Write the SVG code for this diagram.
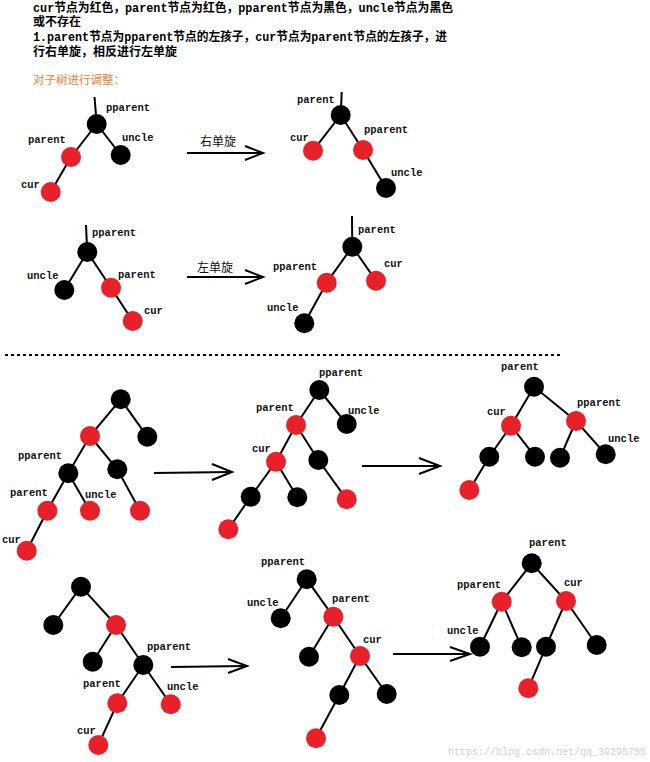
<svg xmlns="http://www.w3.org/2000/svg" width="650" height="762" viewBox="0 0 650 762">
<style>
.t{font-family:"Liberation Mono","Noto Sans CJK SC",monospace;font-size:12px;fill:#000;font-weight:bold}
.o{font-family:"Liberation Mono","Noto Sans CJK SC",monospace;font-size:11.5px;fill:#f07d2a}
.l{font-family:"Liberation Mono","Noto Sans CJK SC",monospace;font-size:10.5px;font-weight:bold;fill:#111}
.c{font-family:"Noto Sans CJK SC",sans-serif;font-size:12px;fill:#111}
.b{fill:#000}
.r{fill:#e8202a}
.e line{stroke:#000;stroke-width:2}
.a{stroke:#000;stroke-width:2;fill:none}
</style>
<rect width="650" height="762" fill="#fff"/>
<g id="intro">
<text class="t" x="33" y="12" textLength="420" lengthAdjust="spacingAndGlyphs">cur节点为红色，parent节点为红色，pparent节点为黑色，uncle节点为黑色</text>
<text class="t" x="33" y="26">或不存在</text>
<text class="t" x="33" y="41" textLength="414" lengthAdjust="spacingAndGlyphs">1.parent节点为pparent节点的左孩子，cur节点为parent节点的左孩子，进</text>
<text class="t" x="33" y="56">行右单旋，相反进行左单旋</text>
<text class="o" x="33" y="84">对子树进行调整：</text>
</g>
<g id="connectors" class="e">
<!-- T1 -->
<line x1="94.5" y1="97" x2="96" y2="115"/>
<line x1="96.7" y1="124" x2="71" y2="157"/>
<line x1="96.7" y1="124" x2="120.7" y2="155"/>
<line x1="71" y1="157" x2="50.7" y2="192"/>
<!-- T2 -->
<line x1="341.7" y1="92" x2="341.2" y2="106"/>
<line x1="340.7" y1="115" x2="313" y2="150.7"/>
<line x1="340.7" y1="115" x2="363" y2="150"/>
<line x1="363" y1="150" x2="386" y2="188"/>
<!-- T3 -->
<line x1="86" y1="225" x2="86.8" y2="243"/>
<line x1="87.3" y1="252" x2="64.3" y2="290"/>
<line x1="87.3" y1="252" x2="111" y2="287.7"/>
<line x1="111" y1="287.7" x2="132.7" y2="321"/>
<!-- T4 -->
<line x1="352" y1="216" x2="352.2" y2="237"/>
<line x1="352.3" y1="246.7" x2="326.7" y2="282.7"/>
<line x1="352.3" y1="246.7" x2="376" y2="280.7"/>
<line x1="326.7" y1="282.7" x2="304.3" y2="323.3"/>
<!-- T5 -->
<line x1="120.7" y1="399.3" x2="90" y2="436"/>
<line x1="120.7" y1="399.3" x2="147.3" y2="436.7"/>
<line x1="90" y1="436" x2="68.3" y2="473.3"/>
<line x1="90" y1="436" x2="117.3" y2="469.3"/>
<line x1="68.3" y1="473.3" x2="47.3" y2="510.7"/>
<line x1="68.3" y1="473.3" x2="90" y2="510.7"/>
<line x1="117.3" y1="469.3" x2="140" y2="510.7"/>
<line x1="47.3" y1="510.7" x2="26.7" y2="550.7"/>
<!-- T6 -->
<line x1="319.3" y1="390" x2="296" y2="425"/>
<line x1="319.3" y1="390" x2="346.7" y2="424"/>
<line x1="296" y1="425" x2="276" y2="461.7"/>
<line x1="296" y1="425" x2="318.3" y2="460"/>
<line x1="276" y1="461.7" x2="250.7" y2="496.7"/>
<line x1="276" y1="461.7" x2="297.3" y2="497.3"/>
<line x1="318.3" y1="460" x2="346.7" y2="499.3"/>
<line x1="250.7" y1="496.7" x2="228.3" y2="529.3"/>
<!-- T7 -->
<line x1="534" y1="386.7" x2="511" y2="425.7"/>
<line x1="534" y1="386.7" x2="576" y2="421"/>
<line x1="511" y1="425.7" x2="489.3" y2="456.7"/>
<line x1="511" y1="425.7" x2="535" y2="456.7"/>
<line x1="576" y1="421" x2="560" y2="457.7"/>
<line x1="576" y1="421" x2="605.7" y2="454.3"/>
<line x1="489.3" y1="456.7" x2="469.3" y2="490"/>
<!-- T8 -->
<line x1="81" y1="586.7" x2="53.3" y2="625"/>
<line x1="81" y1="586.7" x2="116" y2="625"/>
<line x1="116" y1="625" x2="92.7" y2="661.7"/>
<line x1="116" y1="625" x2="143.3" y2="665"/>
<line x1="143.3" y1="665" x2="117.3" y2="703.3"/>
<line x1="143.3" y1="665" x2="170.7" y2="704.3"/>
<line x1="117.3" y1="703.3" x2="98.3" y2="745"/>
<!-- T9 -->
<line x1="306.7" y1="579.3" x2="280.7" y2="618.3"/>
<line x1="306.7" y1="579.3" x2="333.3" y2="616.7"/>
<line x1="333.3" y1="616.7" x2="309" y2="656.7"/>
<line x1="333.3" y1="616.7" x2="360" y2="656"/>
<line x1="360" y1="656" x2="339.3" y2="695"/>
<line x1="360" y1="656" x2="386.7" y2="694"/>
<line x1="339.3" y1="695" x2="316" y2="738.3"/>
<!-- T10 -->
<line x1="531.7" y1="563.3" x2="501.7" y2="601.7"/>
<line x1="531.7" y1="563.3" x2="566" y2="601"/>
<line x1="501.7" y1="601.7" x2="480" y2="646.7"/>
<line x1="501.7" y1="601.7" x2="521.7" y2="647.3"/>
<line x1="566" y1="601" x2="546" y2="646.7"/>
<line x1="566" y1="601" x2="596.7" y2="645"/>
<line x1="546" y1="646.7" x2="528.3" y2="688.3"/>
</g>
<g id="arrows">
<line class="a" x1="187" y1="153" x2="262" y2="153"/>
<polyline class="a" points="245,146 263,153 245,160"/>
<line class="a" x1="187" y1="277" x2="262" y2="277"/>
<polyline class="a" points="245,270 263,277 245,284"/>
<line class="a" x1="154" y1="473" x2="231" y2="472"/>
<polyline class="a" points="212,464 232,472 212,480"/>
<line class="a" x1="362" y1="466" x2="439" y2="466"/>
<polyline class="a" points="419,458 440,466 419,474"/>
<line class="a" x1="171" y1="667" x2="246" y2="666"/>
<polyline class="a" points="228,659 247,666 228,673"/>
<line class="a" x1="393" y1="654" x2="469" y2="654"/>
<polyline class="a" points="450,647 470,654 450,661"/>
<text class="c" x="200" y="146">右单旋</text>
<text class="c" x="197" y="272">左单旋</text>
</g>
<line id="divider" x1="5" y1="355" x2="560" y2="355" stroke="#000" stroke-width="2" stroke-dasharray="3 3"/>
<g id="tree1">
<circle class="b" cx="96.7" cy="124" r="10"/><circle class="r" cx="71" cy="157" r="10"/>
<circle class="b" cx="120.7" cy="155" r="10"/><circle class="r" cx="50.7" cy="192" r="10"/>
<text class="l" x="106" y="111">pparent</text><text class="l" x="122" y="141">uncle</text>
<text class="l" x="28" y="143">parent</text><text class="l" x="21" y="188">cur</text>
</g>
<g id="tree2">
<circle class="b" cx="340.7" cy="115" r="10"/><circle class="r" cx="313" cy="150.7" r="10"/>
<circle class="r" cx="363" cy="150" r="10"/><circle class="b" cx="386" cy="188" r="10"/>
<text class="l" x="297" y="103">parent</text><text class="l" x="290" y="141">cur</text>
<text class="l" x="364" y="133">pparent</text><text class="l" x="391" y="176">uncle</text>
</g>
<g id="tree3">
<circle class="b" cx="87.3" cy="252" r="10"/><circle class="b" cx="64.3" cy="290" r="10"/>
<circle class="r" cx="111" cy="287.7" r="10"/><circle class="r" cx="132.7" cy="321" r="10"/>
<text class="l" x="92" y="236">pparent</text><text class="l" x="27" y="279">uncle</text>
<text class="l" x="118" y="278">parent</text><text class="l" x="144" y="314">cur</text>
</g>
<g id="tree4">
<circle class="b" cx="352.3" cy="246.7" r="10"/><circle class="r" cx="326.7" cy="282.7" r="10"/>
<circle class="r" cx="376" cy="280.7" r="10"/><circle class="b" cx="304.3" cy="323.3" r="10"/>
<text class="l" x="358" y="233">parent</text><text class="l" x="273" y="270">pparent</text>
<text class="l" x="384" y="267">cur</text><text class="l" x="267" y="311">uncle</text>
</g>
<g id="tree5">
<circle class="b" cx="120.7" cy="399.3" r="10"/><circle class="b" cx="147.3" cy="436.7" r="10"/>
<circle class="r" cx="90" cy="436" r="10"/><circle class="b" cx="68.3" cy="473.3" r="10"/>
<circle class="b" cx="117.3" cy="469.3" r="10"/><circle class="r" cx="47.3" cy="510.7" r="10"/>
<circle class="r" cx="90" cy="510.7" r="10"/><circle class="r" cx="140" cy="510.7" r="10"/>
<circle class="r" cx="26.7" cy="550.7" r="10"/>
<text class="l" x="18" y="459">pparent</text><text class="l" x="10" y="496">parent</text>
<text class="l" x="85" y="498">uncle</text><text class="l" x="2" y="543">cur</text>
</g>
<g id="tree6">
<circle class="b" cx="319.3" cy="390" r="10"/><circle class="b" cx="346.7" cy="424" r="10"/>
<circle class="r" cx="296" cy="425" r="10"/><circle class="r" cx="276" cy="461.7" r="10"/>
<circle class="b" cx="318.3" cy="460" r="10"/><circle class="b" cx="250.7" cy="496.7" r="10"/>
<circle class="b" cx="297.3" cy="497.3" r="10"/><circle class="r" cx="346.7" cy="499.3" r="10"/>
<circle class="r" cx="228.3" cy="529.3" r="10"/>
<text class="l" x="319" y="376">pparent</text><text class="l" x="348" y="414">uncle</text>
<text class="l" x="256" y="411">parent</text><text class="l" x="252" y="452">cur</text>
</g>
<g id="tree7">
<circle class="b" cx="534" cy="386.7" r="10"/><circle class="r" cx="511" cy="425.7" r="10"/>
<circle class="r" cx="576" cy="421" r="10"/><circle class="b" cx="489.3" cy="456.7" r="10"/>
<circle class="b" cx="535" cy="456.7" r="10"/><circle class="b" cx="560" cy="457.7" r="10"/>
<circle class="b" cx="605.7" cy="454.3" r="10"/><circle class="r" cx="469.3" cy="490" r="10"/>
<text class="l" x="501" y="370">parent</text><text class="l" x="487" y="415">cur</text>
<text class="l" x="577" y="406">pparent</text><text class="l" x="608" y="442">uncle</text>
</g>
<g id="tree8">
<circle class="b" cx="81" cy="586.7" r="10"/><circle class="b" cx="53.3" cy="625" r="10"/>
<circle class="r" cx="116" cy="625" r="10"/><circle class="b" cx="92.7" cy="661.7" r="10"/>
<circle class="b" cx="143.3" cy="665" r="10"/><circle class="r" cx="117.3" cy="703.3" r="10"/>
<circle class="r" cx="170.7" cy="704.3" r="10"/><circle class="r" cx="98.3" cy="745" r="10"/>
<text class="l" x="147" y="650">pparent</text><text class="l" x="83" y="687">parent</text>
<text class="l" x="167" y="690">uncle</text><text class="l" x="77" y="734">cur</text>
</g>
<g id="tree9">
<circle class="b" cx="306.7" cy="579.3" r="10"/><circle class="b" cx="280.7" cy="618.3" r="10"/>
<circle class="r" cx="333.3" cy="616.7" r="10"/><circle class="b" cx="309" cy="656.7" r="10"/>
<circle class="r" cx="360" cy="656" r="10"/><circle class="b" cx="339.3" cy="695" r="10"/>
<circle class="b" cx="386.7" cy="694" r="10"/><circle class="r" cx="316" cy="738.3" r="10"/>
<text class="l" x="261" y="565">pparent</text><text class="l" x="247" y="606">uncle</text>
<text class="l" x="332" y="602">parent</text><text class="l" x="363" y="643">cur</text>
</g>
<g id="tree10">
<circle class="b" cx="531.7" cy="563.3" r="10"/><circle class="r" cx="501.7" cy="601.7" r="10"/>
<circle class="r" cx="566" cy="601" r="10"/><circle class="b" cx="480" cy="646.7" r="10"/>
<circle class="b" cx="521.7" cy="647.3" r="10"/><circle class="b" cx="546" cy="646.7" r="10"/>
<circle class="b" cx="596.7" cy="645" r="10"/><circle class="r" cx="528.3" cy="688.3" r="10"/>
<text class="l" x="529" y="546">parent</text><text class="l" x="457" y="588">pparent</text>
<text class="l" x="564" y="586">cur</text><text class="l" x="447" y="634">uncle</text>
</g>
<text id="watermark" x="448" y="755" font-family="Liberation Mono, monospace" font-size="10" fill="#d0d0d0">https://blog.csdn.net/qq_39295755</text>
</svg>
